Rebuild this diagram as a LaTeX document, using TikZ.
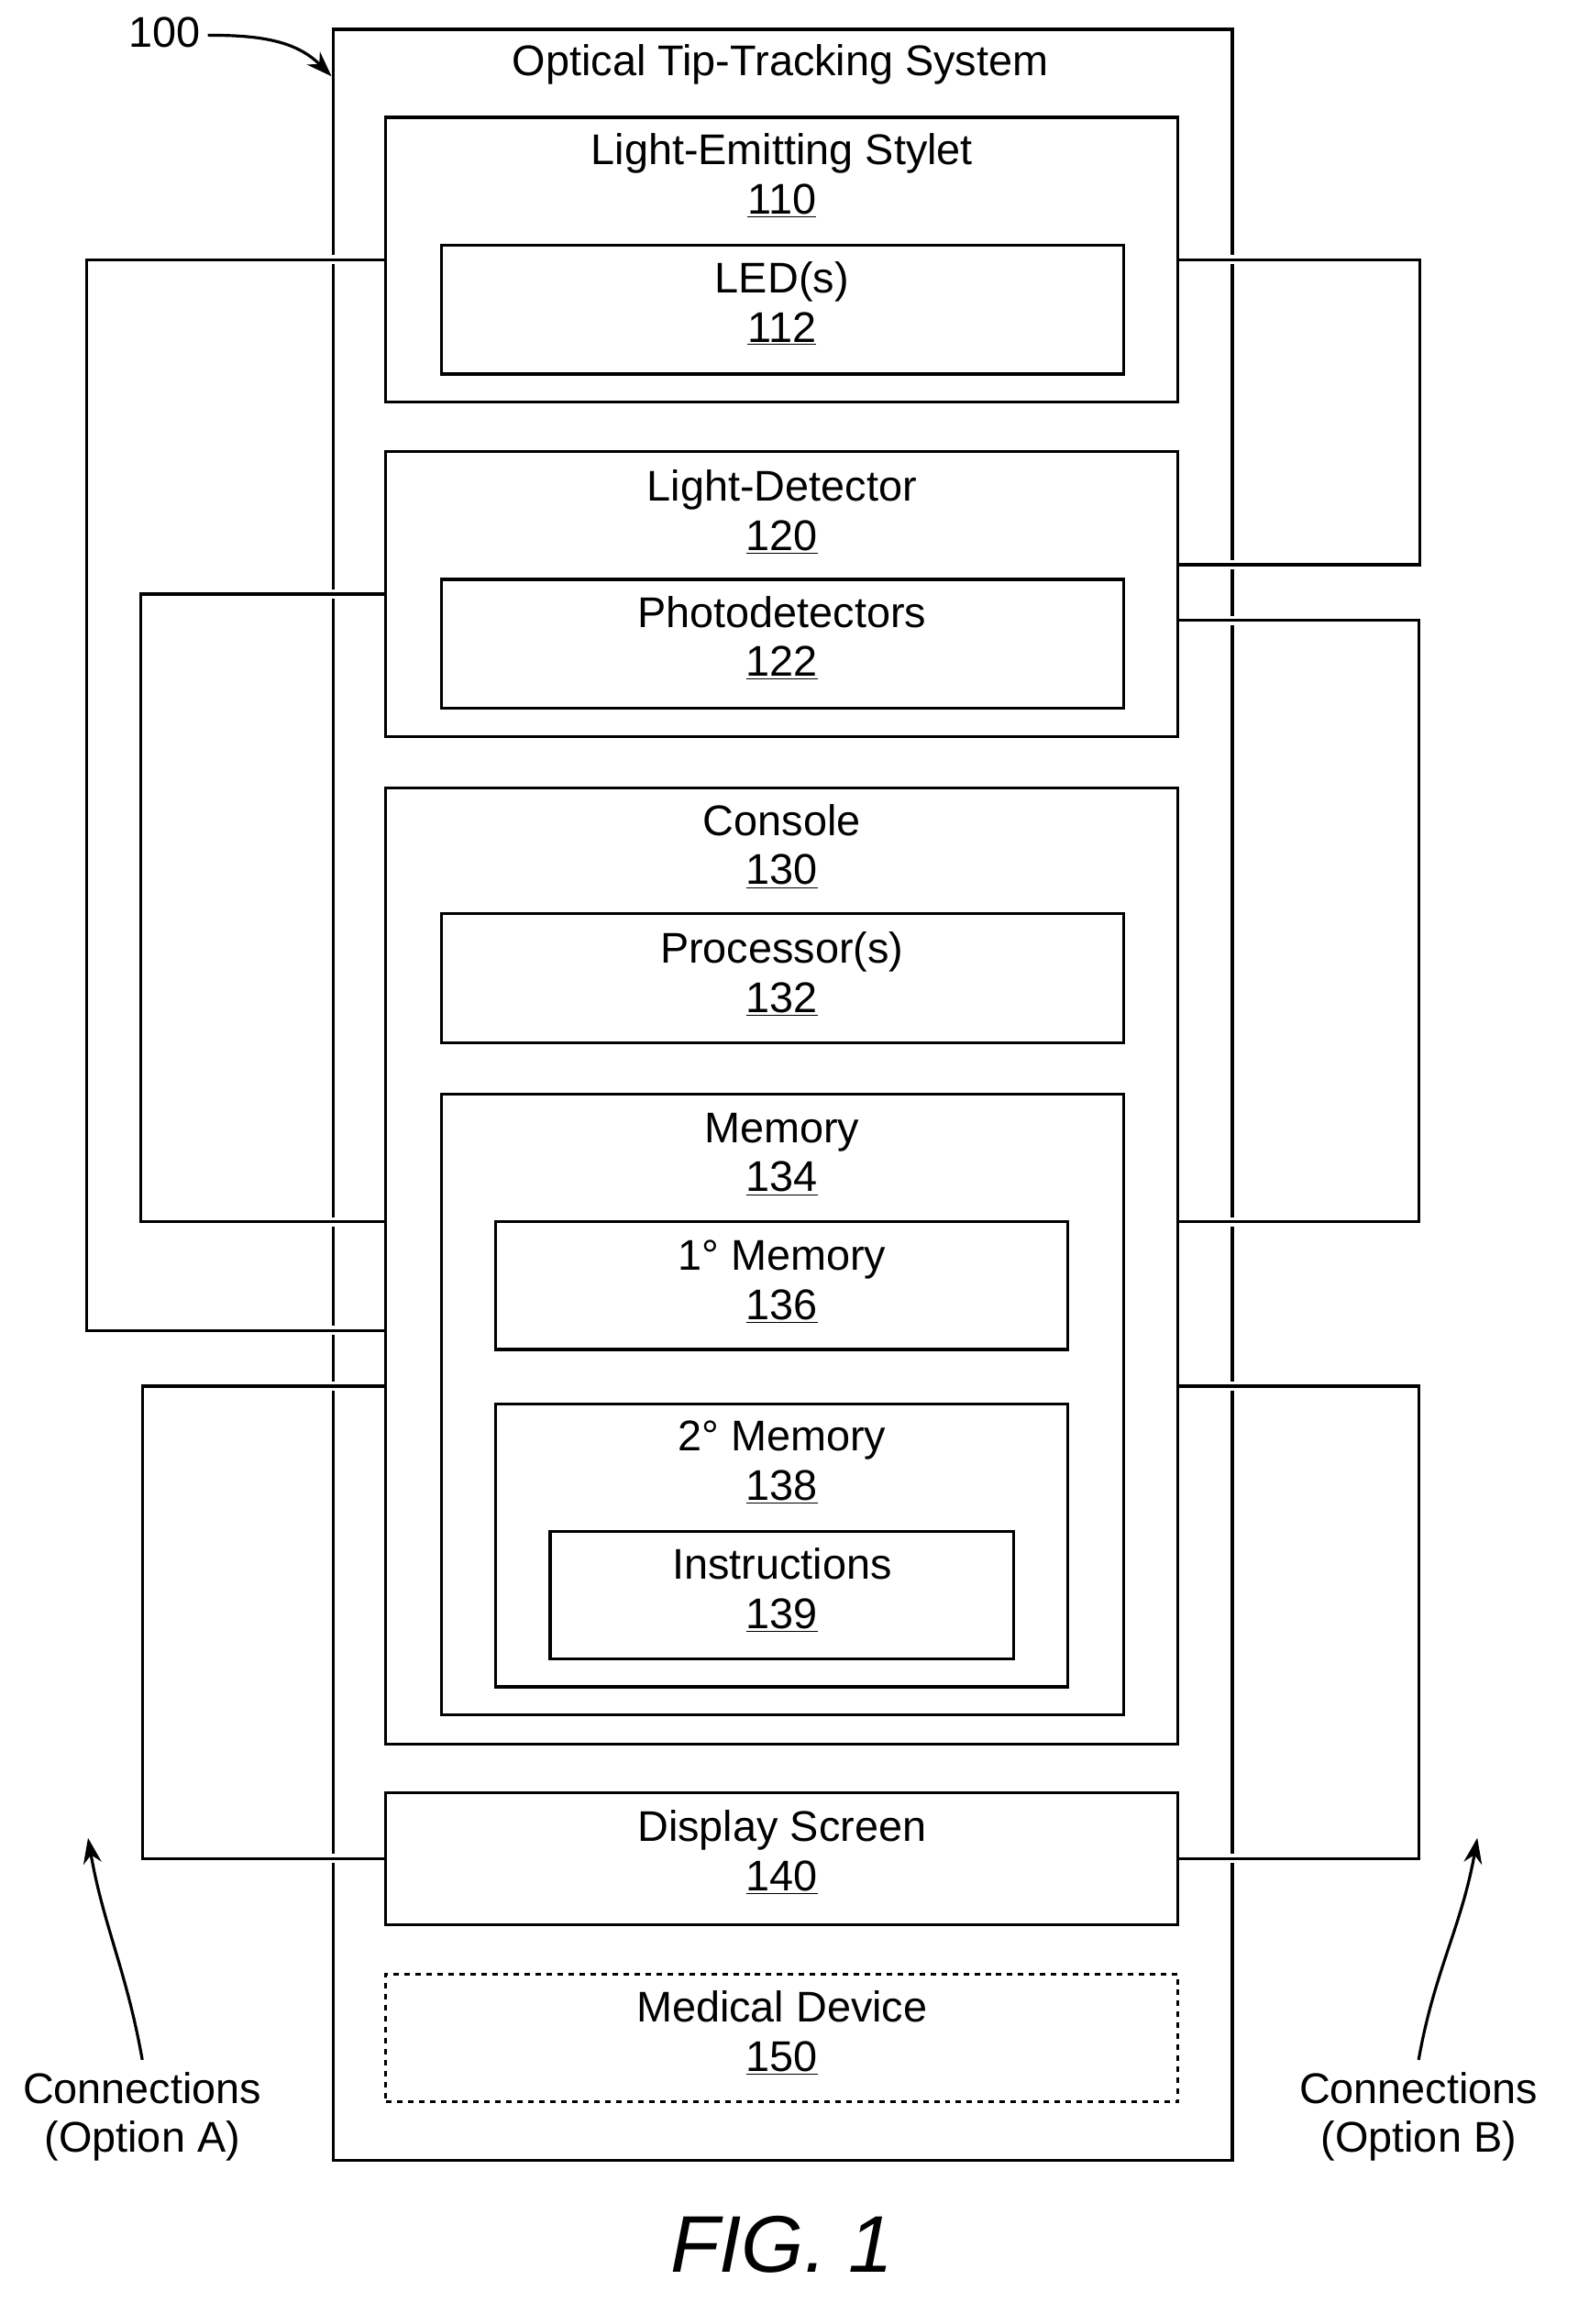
\documentclass[tikz,border=0pt]{standalone}
\usepackage{fontspec}
\setmainfont{Liberation Sans}
\usetikzlibrary{arrows.meta}
\tikzset{
  box/.style={draw, rectangle, line width=1.6pt, inner sep=0pt},
  lbl/.style={align=center, font=\fontsize{23.5}{27}\selectfont, inner sep=0pt},
  conn/.style={line width=1.6pt, preaction={draw, white, line width=5pt}},
  lead/.style={line width=1.6pt, -{Stealth[length=14pt, width=10pt]}}
}
\begin{document}
\begin{tikzpicture}[x=0.8bp, y=-0.8bp]
\useasboundingbox (0,0) rectangle (1075.6,1584.4);

% outer system
\node[box, minimum width=613*0.8bp, minimum height=1453*0.8bp] at (533.5, 746.5) (sys) {};
\node[lbl] at (532, 44) (systxt) {Optical Tip-Tracking System};

% stylet
\node[box, minimum width=540*0.8bp, minimum height=194*0.8bp] at (533, 177) (styl) {};
\node[lbl] at (533, 120) (styltxt) {Light-Emitting Stylet\\\underline{110}};
\node[box, minimum width=465*0.8bp, minimum height=88*0.8bp] at (533.5, 211) (led) {};
\node[lbl] at (533, 207) (ledtxt) {LED(s)\\\underline{112}};

% light detector
\node[box, minimum width=540*0.8bp, minimum height=194*0.8bp] at (533, 405) (det) {};
\node[lbl] at (533, 349) (dettxt) {Light-Detector\\\underline{120}};
\node[box, minimum width=465*0.8bp, minimum height=88*0.8bp] at (533.5, 439) (pd) {};
\node[lbl] at (533, 435) (pdtxt) {Photodetectors\\\underline{122}};

% console
\node[box, minimum width=540*0.8bp, minimum height=652*0.8bp] at (533, 863) (con) {};
\node[lbl] at (533, 577) (contxt) {Console\\\underline{130}};
\node[box, minimum width=465*0.8bp, minimum height=88*0.8bp] at (533.5, 667) (proc) {};
\node[lbl] at (533, 664) (proctxt) {Processor(s)\\\underline{132}};
\node[box, minimum width=465*0.8bp, minimum height=423*0.8bp] at (533.5, 957.5) (mem) {};
\node[lbl] at (533, 787) (memtxt) {Memory\\\underline{134}};
\node[box, minimum width=390*0.8bp, minimum height=87*0.8bp] at (533, 876.5) (mem1) {};
\node[lbl] at (533, 874) (mem1txt) {1° Memory\\\underline{136}};
\node[box, minimum width=390*0.8bp, minimum height=193*0.8bp] at (533, 1053.5) (mem2) {};
\node[lbl] at (533, 997) (mem2txt) {2° Memory\\\underline{138}};
\node[box, minimum width=316*0.8bp, minimum height=87*0.8bp] at (533, 1087.5) (ins) {};
\node[lbl] at (533, 1084) (instxt) {Instructions\\\underline{139}};

% display and medical device
\node[box, minimum width=540*0.8bp, minimum height=90*0.8bp] at (533, 1267) (disp) {};
\node[lbl] at (533, 1263) (disptxt) {Display Screen\\\underline{140}};
\node[box, dashed, minimum width=540*0.8bp, minimum height=87*0.8bp] at (533, 1389.5) (med) {};
\node[lbl] at (533, 1386) (medtxt) {Medical Device\\\underline{150}};

% connections, option A
\draw[conn] (styl.west) -- ++(-203,0) |- (con.west |- 0,907);
\draw[conn] (det.west) -- ++(-166,0) |- (con.west |- 0,833);
\draw[conn] (con.west |- 0,945) -- (97,945) |- (disp.west);

% connections, option B
\draw[conn] (styl.east) -- ++(164,0) |- (det.east |- 0,385);
\draw[conn] (det.east |- 0,423) -- (967,423) |- (con.east |- 0,833);
\draw[conn] (con.east |- 0,945) -- (967,945) |- (disp.east);

% reference numeral and captions
\node[lbl] at (112, 22) (ref) {100};
\draw[lead] (ref.east) ++(5,2) to[out=0, in=135] (sys.north west |- 0,52);

\node[lbl] at (97, 1443) (capa) {Connections\\(Option A)};
\draw[lead] (capa.north) ++(0,-8) to[out=100, in=-80] (60,1253);
\node[lbl] at (967, 1443) (capb) {Connections\\(Option B)};
\draw[lead] (capb.north) ++(0,-8) to[out=80, in=-100] (1007,1253);

\node[font=\fontsize{44}{50}\selectfont\itshape] at (533, 1530) (fig) {FIG. 1};

\end{tikzpicture}
\end{document}
